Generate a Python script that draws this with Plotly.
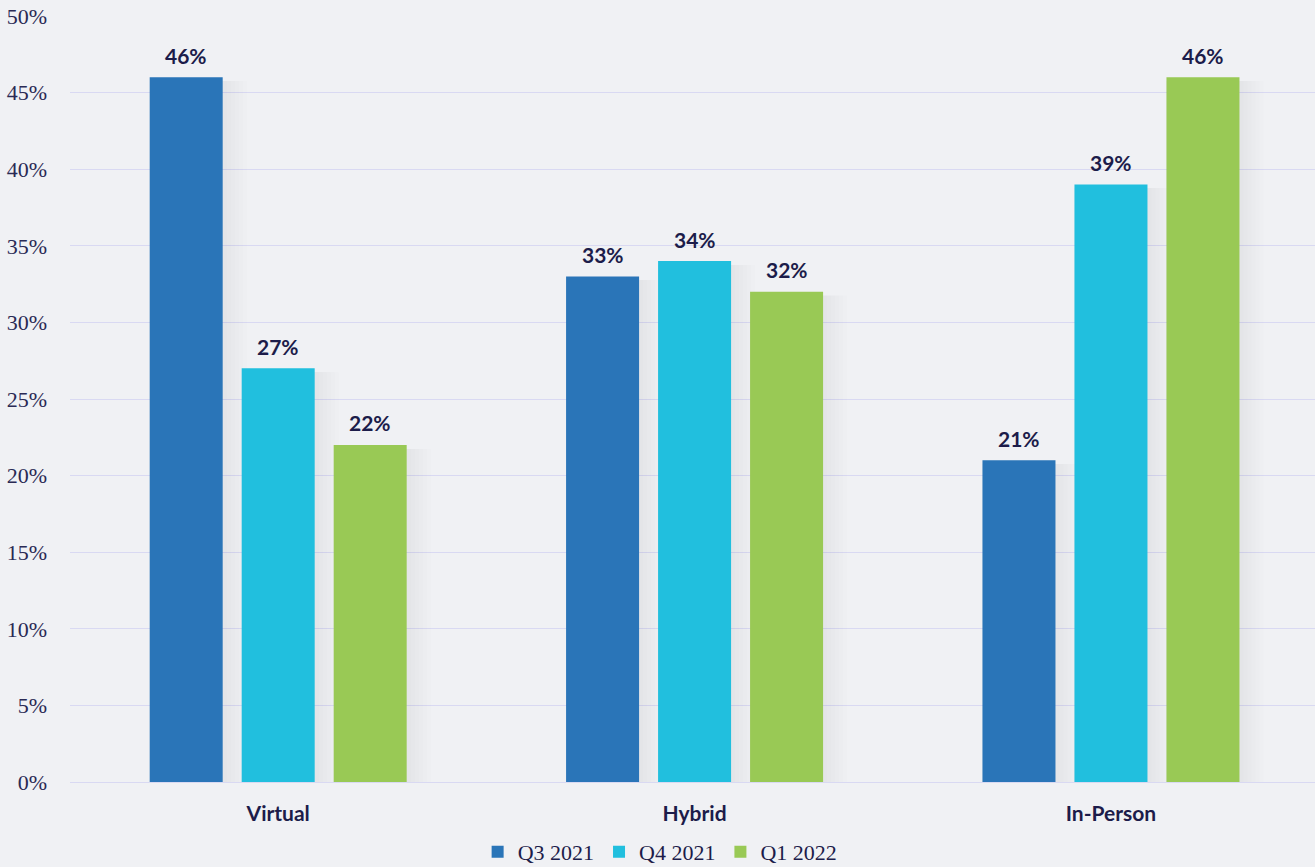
import plotly.graph_objects as go

# Meeting format share by quarter
categories = ["Virtual", "Hybrid", "In-Person"]
series_names = ["Q3 2021", "Q4 2021", "Q1 2022"]
q3_2021 = [46, 33, 21]
q4_2021 = [27, 34, 39]
q1_2022 = [22, 32, 46]
y_ticks = [0, 5, 10, 15, 20, 25, 30, 35, 40, 45, 50]
y_tick_labels = [f"{t}%" for t in y_ticks]

series_values = [q3_2021, q4_2021, q1_2022]
colors = ["#2a75b8", "#21bfde", "#99c955"]

BG = "#f0f1f4"
NAVY = "#1c1c4a"
SERIF = "Liberation Serif, serif"
SANS = "Lato, Open Sans, sans-serif"

# Geometry of the grouped bars in category units
plot_left, plot_right = 70, 1315
x_range = [-0.5, 2.49]
px_per_unit = (plot_right - plot_left) / (x_range[1] - x_range[0])
slot = 92 / px_per_unit
bar_w = 73 / px_per_unit
x_pos = list(range(len(categories)))

fig = go.Figure()

# soft drop shadow to the right of each bar
for j, vals in enumerate(series_values):
    base_offset = (j - 1) * slot - bar_w / 2
    for spread in [4, 8, 12, 16, 20, 24]:
        fig.add_trace(go.Bar(
            x=x_pos, y=[v - 0.25 for v in vals],
            width=bar_w + spread / px_per_unit,
            offset=base_offset,
            marker=dict(color="rgba(60,60,80,0.010)", line=dict(width=0)),
            showlegend=False, hoverinfo="skip",
        ))

for j, (name, vals) in enumerate(zip(series_names, series_values)):
    fig.add_trace(go.Bar(
        x=x_pos, y=vals, name=name,
        width=bar_w,
        offset=(j - 1) * slot - bar_w / 2,
        marker=dict(color=colors[j], line=dict(width=0)),
    ))
    for i, v in enumerate(vals):
        fig.add_annotation(
            x=i + (j - 1) * slot, y=v, xref="x", yref="y",
            text=f"{v}%", showarrow=False,
            yanchor="middle", yshift=22,
            font=dict(family=SANS, size=21, color=NAVY, weight="bold"),
        )

fig.update_layout(
    barmode="overlay",
    width=1315, height=867,
    margin=dict(l=plot_left, r=0, t=16, b=85, autoexpand=False),
    paper_bgcolor=BG, plot_bgcolor=BG,
    legend=dict(
        orientation="h", x=0.474, xanchor="center",
        yref="container", y=15 / 867, yanchor="middle",
        font=dict(family=SERIF, size=22, color=NAVY),
        bgcolor="rgba(0,0,0,0)", traceorder="normal",
    ),
    showlegend=True,
)

fig.update_xaxes(
    range=x_range, tickvals=x_pos, ticktext=categories,
    showgrid=False, zeroline=False, showline=False, ticks="",
    tickfont=dict(family=SANS, size=21, color=NAVY, weight="bold"),
    ticklabelstandoff=17,
)
fig.update_yaxes(
    range=[0, 50], tickvals=y_ticks, ticktext=y_tick_labels,
    showgrid=True, gridcolor="#d9d9f2", gridwidth=1,
    zeroline=True, zerolinecolor="#d9d9f2", zerolinewidth=1,
    showline=False, ticks="",
    tickfont=dict(family=SERIF, size=22, color="#2a2a55"),
    ticklabelstandoff=22,
)

fig.write_html("out.html")
